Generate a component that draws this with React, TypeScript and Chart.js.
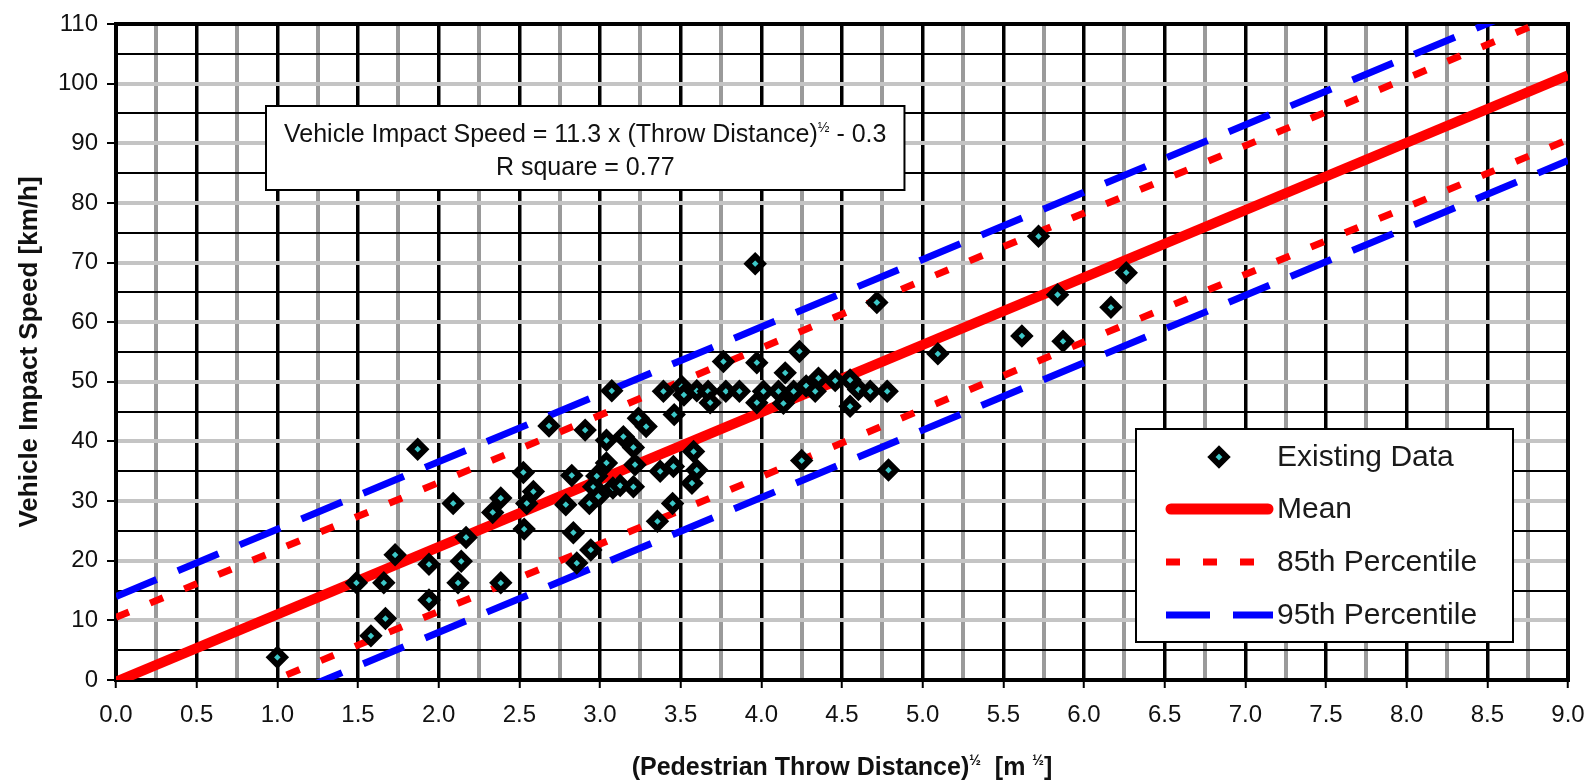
import React, { useEffect, useRef } from 'react';
import { Chart, registerables } from 'chart.js';

Chart.register(...registerables);

const FONT = '"Liberation Sans", Arial, Helvetica, sans-serif';

// ---- data ----
const existingX = [
  1.0, 1.49, 1.58, 1.66, 1.67, 1.73, 1.87, 1.94, 1.94, 2.09,
  2.12, 2.14, 2.17, 2.335, 2.385, 2.385, 2.525, 2.53, 2.546, 2.587,
  2.684, 2.788, 2.825, 2.835, 2.856, 2.908, 2.934, 2.943, 2.96, 2.98,
  2.99, 3.04, 3.04, 3.073, 3.08, 3.125, 3.145, 3.207, 3.217, 3.207,
  3.238, 3.286, 3.356, 3.373, 3.393, 3.455, 3.45, 3.46, 3.507, 3.52,
  3.57, 3.58, 3.6, 3.6, 3.67, 3.683, 3.765, 3.78, 3.864, 3.962,
  3.972, 3.972, 4.013, 4.106, 4.137, 4.148, 4.2, 4.236, 4.25, 4.278,
  4.334, 4.354, 4.458, 4.55, 4.55, 4.602, 4.675, 4.716, 4.78, 4.788,
  5.094, 5.615, 5.718, 5.836, 5.87, 6.167, 6.262,
];
const existingY = [
  3.8, 16.3, 7.4, 16.3, 10.3, 21.0, 38.7, 19.4, 13.4, 29.6,
  16.3, 19.9, 23.9, 28.1, 30.5, 16.3, 34.8, 25.3, 29.6, 31.6,
  42.6, 29.4, 34.3, 24.7, 19.6, 41.9, 29.6, 21.8, 32.4, 34.2,
  30.8, 40.2, 36.4, 48.5, 32.2, 32.6, 40.8, 39.0, 36.1, 32.4,
  43.9, 42.5, 26.6, 35.0, 48.4, 35.8, 29.6, 44.5, 49.2, 47.8,
  33.0, 38.3, 35.2, 48.5, 48.4, 46.5, 53.4, 48.4, 48.4, 69.8,
  53.2, 46.5, 48.4, 48.4, 46.4, 51.5, 48.4, 55.1, 36.8, 49.3,
  48.4, 50.6, 50.2, 50.3, 45.9, 48.7, 48.4, 63.3, 48.4, 35.2,
  54.7, 57.7, 74.4, 64.6, 56.8, 62.5, 68.3,
];

const lineX = [0, 9];
const meanY = [-0.3, 101.4];
const upper85Y = [10.5, 112.2];
const lower85Y = [-11.1, 90.6];
const upper95Y = [14.0, 115.7];
const lower95Y = [-14.6, 87.1];

const X_MIN = 0, X_MAX = 9, X_MINOR = 0.25, X_LABEL_STEP = 0.5;
const Y_MIN = 0, Y_MAX = 110, Y_MINOR = 5, Y_LABEL_STEP = 10;

const textLine1 = [
  { t: 'Vehicle Impact Speed = 11.3 x (Throw Distance)' },
  { t: '½', sup: true },
  { t: ' - 0.3' },
];
const textLine2 = [{ t: 'R square = 0.77' }];
const xTitle = [
  { t: '(Pedestrian Throw Distance)' },
  { t: '½', sup: true },
  { t: '  [m ' },
  { t: '½', sup: true },
  { t: ']' },
];
const yTitle = 'Vehicle Impact Speed [km/h]';
const legendLabels = ['Existing Data', 'Mean', '85th Percentile', '95th Percentile'];

const RED = '#ff0000';
const BLUE = '#0000ff';
const CYAN = '#3cc8c8';
const DASH85 = [14, 23];
const DASH95 = [44, 23];
const PT_R = 7.5;
const PT_BW = 6;

const isMult = (v: number, step: number) => Math.abs(v / step - Math.round(v / step)) < 1e-6;

type Part = { t: string; sup?: boolean };

function measureRich(ctx: CanvasRenderingContext2D, parts: Part[], size: number, bold: boolean) {
  const fN = `${bold ? 'bold ' : ''}${size}px ${FONT}`;
  const fS = `${bold ? 'bold ' : ''}${Math.round(size * 0.55)}px ${FONT}`;
  let w = 0;
  for (const p of parts) {
    ctx.font = p.sup ? fS : fN;
    w += ctx.measureText(p.t).width;
  }
  return w;
}

function drawRich(ctx: CanvasRenderingContext2D, parts: Part[], x: number, y: number, size: number, bold: boolean, align: 'left' | 'center') {
  const fN = `${bold ? 'bold ' : ''}${size}px ${FONT}`;
  const fS = `${bold ? 'bold ' : ''}${Math.round(size * 0.55)}px ${FONT}`;
  const w = measureRich(ctx, parts, size, bold);
  let cx = align === 'center' ? x - w / 2 : x;
  ctx.textAlign = 'left';
  ctx.textBaseline = 'alphabetic';
  for (const p of parts) {
    ctx.font = p.sup ? fS : fN;
    ctx.fillText(p.t, cx, p.sup ? y - size * 0.42 : y);
    cx += ctx.measureText(p.t).width;
  }
  return w;
}

function diamond(ctx: CanvasRenderingContext2D, x: number, y: number, r: number) {
  ctx.beginPath();
  ctx.moveTo(x - r, y);
  ctx.lineTo(x, y - r);
  ctx.lineTo(x + r, y);
  ctx.lineTo(x, y + r);
  ctx.closePath();
}

const decorPlugin = {
  id: 'decor',
  beforeDatasetsDraw(chart: any) {
    const { ctx, chartArea: a } = chart;
    ctx.save();
    ctx.strokeStyle = '#000';
    ctx.lineWidth = 4;
    ctx.strokeRect(a.left, a.top, a.right - a.left, a.bottom - a.top);
    ctx.restore();
  },
  afterDraw(chart: any) {
    const { ctx, chartArea: a } = chart;
    ctx.save();
    ctx.fillStyle = '#111';

    // axis titles
    drawRich(ctx, xTitle, (a.left + a.right) / 2, 775, 25, true, 'center');
    ctx.save();
    ctx.translate(30, (a.top + a.bottom) / 2);
    ctx.rotate(-Math.PI / 2);
    ctx.font = `bold 26px ${FONT}`;
    ctx.textAlign = 'center';
    ctx.textBaseline = 'middle';
    ctx.fillText(yTitle, 0, 0);
    ctx.restore();

    // equation box
    const tw = measureRich(ctx, textLine1, 25, false);
    const bx = a.left + 150, by = a.top + 82, bw = tw + 36, bh = 84;
    ctx.fillStyle = '#fff';
    ctx.fillRect(bx, by, bw, bh);
    ctx.strokeStyle = '#000';
    ctx.lineWidth = 2;
    ctx.strokeRect(bx, by, bw, bh);
    ctx.fillStyle = '#111';
    drawRich(ctx, textLine1, bx + bw / 2, by + 36, 25, false, 'center');
    drawRich(ctx, textLine2, bx + bw / 2, by + 69, 25, false, 'center');

    // legend
    const lx = a.right - 432, ly = a.bottom - 251, lw = 377, lh = 213;
    ctx.fillStyle = '#fff';
    ctx.fillRect(lx, ly, lw, lh);
    ctx.strokeStyle = '#000';
    ctx.lineWidth = 2;
    ctx.strokeRect(lx, ly, lw, lh);
    const rows = [28, 80, 133, 186];
    const sx0 = lx + 30, sx1 = lx + 137;
    diamond(ctx, lx + 83, ly + rows[0], PT_R);
    ctx.fillStyle = CYAN;
    ctx.fill();
    ctx.strokeStyle = '#000';
    ctx.lineWidth = PT_BW;
    ctx.stroke();
    ctx.lineCap = 'round';
    ctx.strokeStyle = RED;
    ctx.lineWidth = 11;
    ctx.beginPath();
    ctx.moveTo(sx0 + 5, ly + rows[1]);
    ctx.lineTo(sx1 - 5, ly + rows[1]);
    ctx.stroke();
    ctx.lineCap = 'butt';
    ctx.lineWidth = 7;
    ctx.setLineDash(DASH85);
    ctx.beginPath();
    ctx.moveTo(sx0, ly + rows[2]);
    ctx.lineTo(sx1, ly + rows[2]);
    ctx.stroke();
    ctx.strokeStyle = BLUE;
    ctx.setLineDash(DASH95);
    ctx.beginPath();
    ctx.moveTo(sx0, ly + rows[3]);
    ctx.lineTo(sx1, ly + rows[3]);
    ctx.stroke();
    ctx.setLineDash([]);

    ctx.fillStyle = '#1a1a1a';
    ctx.font = `30px ${FONT}`;
    ctx.textAlign = 'left';
    ctx.textBaseline = 'middle';
    legendLabels.forEach((l, i) => ctx.fillText(l, lx + 141, ly + rows[i] + 1));
    ctx.restore();
  },
};

const toPts = (xs: number[], ys: number[]) => xs.map((x, i) => ({ x, y: ys[i] }));

export default function App() {
  const ref = useRef<HTMLCanvasElement | null>(null);
  useEffect(() => {
    if (!ref.current) return;
    const lineDs = (label: string, ys: number[], color: string, width: number, dash: number[]) => ({
      type: 'line' as const,
      label,
      data: toPts(lineX, ys),
      borderColor: color,
      backgroundColor: color,
      borderWidth: width,
      borderDash: dash,
      borderCapStyle: 'butt' as const,
      pointRadius: 0,
      fill: false,
      tension: 0,
      clip: 0,
    });
    const chart = new Chart(ref.current, {
      type: 'scatter',
      data: {
        datasets: [
          {
            label: 'Existing Data',
            data: toPts(existingX, existingY),
            pointStyle: 'rectRot',
            pointRadius: PT_R,
            pointBorderWidth: PT_BW,
            pointBackgroundColor: CYAN,
            pointBorderColor: '#000',
            showLine: false,
          } as any,
          lineDs('Mean', meanY, RED, 10, []),
          lineDs('85th Percentile', upper85Y, RED, 7, DASH85),
          lineDs('85th Percentile (lower)', lower85Y, RED, 7, DASH85),
          lineDs('95th Percentile', upper95Y, BLUE, 7, DASH95),
          lineDs('95th Percentile (lower)', lower95Y, BLUE, 7, DASH95),
        ],
      },
      options: {
        animation: false,
        responsive: false,
        devicePixelRatio: 1,
        events: [],
        layout: { padding: { left: 0, top: 24, right: 19, bottom: 0 } },
        plugins: { legend: { display: false }, tooltip: { enabled: false }, title: { display: false } },
        scales: {
          x: {
            type: 'linear',
            min: X_MIN,
            max: X_MAX,
            afterFit: (s: any) => { s.height = 101; s.paddingLeft = 0; s.paddingRight = 0; },
            border: { display: false },
            ticks: {
              stepSize: X_MINOR,
              autoSkip: false,
              maxRotation: 0,
              padding: 13,
              color: '#111',
              font: { family: FONT, size: 24 },
              callback: (v: any) => (isMult(Number(v), X_LABEL_STEP) ? Number(v).toFixed(1) : ''),
            },
            grid: {
              color: (c: any) => (isMult(c.tick.value, X_LABEL_STEP) ? '#000' : '#9a9a9a'),
              lineWidth: (c: any) => (isMult(c.tick.value, X_LABEL_STEP) ? 3.5 : 4),
              tickColor: (c: any) => (isMult(c.tick.value, X_LABEL_STEP) ? '#000' : 'rgba(0,0,0,0)'),
              tickLength: 8,
              tickWidth: 2,
            },
          },
          y: {
            type: 'linear',
            min: Y_MIN,
            max: Y_MAX,
            afterFit: (s: any) => { s.width = 116; s.paddingTop = 0; s.paddingBottom = 0; },
            border: { display: false },
            ticks: {
              stepSize: Y_MINOR,
              autoSkip: false,
              padding: 9,
              color: '#111',
              font: { family: FONT, size: 24 },
              callback: (v: any) => (isMult(Number(v), Y_LABEL_STEP) ? String(v) : ''),
            },
            grid: {
              color: (c: any) => (isMult(c.tick.value, Y_LABEL_STEP) ? '#c4c4c4' : '#000'),
              lineWidth: (c: any) => (isMult(c.tick.value, Y_LABEL_STEP) ? 4 : 2),
              tickColor: (c: any) => (isMult(c.tick.value, Y_LABEL_STEP) ? '#000' : 'rgba(0,0,0,0)'),
              tickLength: 9,
              tickWidth: 2,
            },
          },
        },
      } as any,
      plugins: [decorPlugin],
    });
    return () => chart.destroy();
  }, []);

  return (
    <div style={{ position: 'absolute', left: 0, top: 0, width: 1587, height: 781, background: '#fff' }}>
      <canvas ref={ref} width={1587} height={781} style={{ width: 1587, height: 781, display: 'block' }} />
    </div>
  );
}
